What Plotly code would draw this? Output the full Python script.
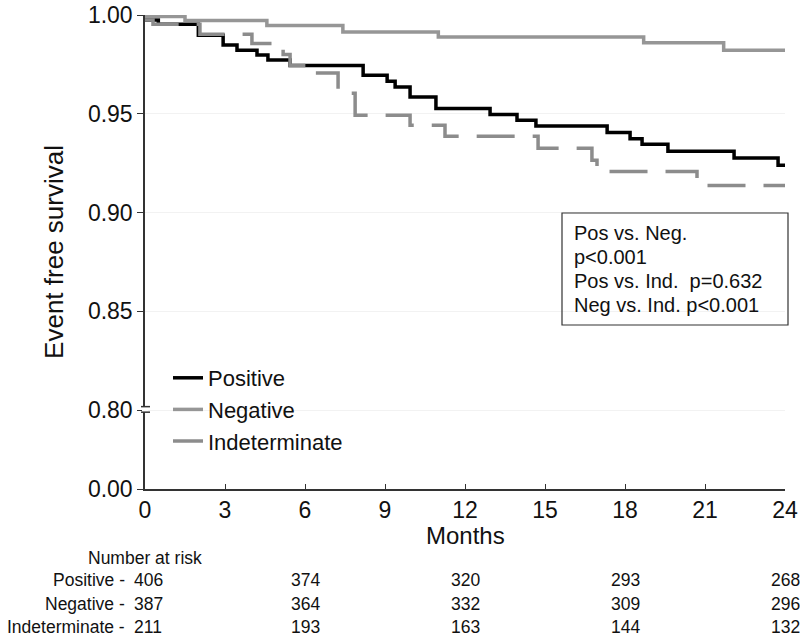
import plotly.graph_objects as go

# ---- data ----
pos_months = [0, 0.5, 2.0, 2.93, 3.45, 4.2, 4.61, 5.44, 8.18, 9.08, 9.38, 9.94, 10.91,
              12.94, 13.95, 14.66, 17.33, 18.19, 18.64, 19.61, 22.09, 23.74, 24]
pos_surv = [0.9975, 0.9953, 0.9898, 0.9848, 0.9822, 0.9797, 0.9772, 0.9744, 0.9695, 0.9665,
            0.9636, 0.9585, 0.9526, 0.9496, 0.9467, 0.9438, 0.9405, 0.9374, 0.9345, 0.9310,
            0.9276, 0.9239, 0.9239]

neg_months = [0, 1.5, 4.57, 7.42, 11.0, 18.7, 21.7, 24]
neg_surv = [0.9992, 0.9972, 0.9947, 0.9914, 0.9888, 0.9859, 0.9822, 0.9822]

ind_months = [0, 0.3, 2.06, 4.01, 5.18, 5.44, 6.2, 7.24, 7.88, 9.94, 11.25, 14.74, 16.76,
              16.95, 20.7, 24]
ind_surv = [0.9975, 0.9953, 0.9902, 0.9856, 0.9800, 0.9744, 0.9706, 0.9604, 0.9492, 0.9442,
            0.9386, 0.9325, 0.9264, 0.9208, 0.9137, 0.9137]

x_ticks = [0, 3, 6, 9, 12, 15, 18, 21, 24]
y_tickvals = [0.76, 0.80, 0.85, 0.90, 0.95, 1.00]   # 0.76 position shows the broken-axis "0.00"
y_ticktext = ["0.00", "0.80", "0.85", "0.90", "0.95", "1.00"]

risk_months = [0, 6, 12, 18, 24]
risk_groups = ["Positive", "Negative", "Indeterminate"]
risk_pos = [406, 374, 320, 293, 268]
risk_neg = [387, 364, 332, 309, 296]
risk_ind = [211, 193, 163, 144, 132]

stats_lines = ["Pos vs. Neg.", "p<0.001", "Pos vs. Ind.&nbsp;&nbsp;p=0.632", "Neg vs. Ind. p<0.001"]

# ---- figure ----
FONT = "Liberation Sans, Arial, sans-serif"
TFONT = "Liberation Sans, Arial, sans-serif"
fig = go.Figure()
fig.add_trace(go.Scatter(x=pos_months, y=pos_surv, mode="lines", name="Positive",
                         line=dict(color="#000000", width=3.5, shape="hv")))
fig.add_trace(go.Scatter(x=neg_months, y=neg_surv, mode="lines", name="Negative",
                         line=dict(color="#969696", width=3.5, shape="hv")))
fig.add_trace(go.Scatter(x=ind_months, y=ind_surv, mode="lines", name="Indeterminate",
                         line=dict(color="#8c8c8c", width=3.5, shape="hv", dash="38px,18px")))

W, H = 800, 641
L, R, T, B = 145, 15, 15, 152
pw, ph = W - L - R, H - T - B

def py(ypx):
    return (H - B - ypx) / ph

def px(xpx):
    return (xpx - L) / pw

fig.update_layout(
    width=W, height=H,
    margin=dict(l=L, r=R, t=T, b=B, autoexpand=False),
    plot_bgcolor="white", paper_bgcolor="white",
    font=dict(family=FONT, color="#111111"),
    showlegend=True,
    legend=dict(x=px(168), y=py(357), xanchor="left", yanchor="top",
                font=dict(size=22, family=FONT, color="#111111"),
                bgcolor="rgba(0,0,0,0)", tracegroupgap=0),
    xaxis=dict(range=[0, 24], tickvals=x_ticks, ticks="inside", ticklen=5,
               tickcolor="#333333", showline=True, linecolor="#333333", linewidth=1.5,
               showgrid=False, zeroline=False, tickfont=dict(size=23), automargin=False),
    yaxis=dict(range=[0.76, 1.0], tickvals=y_tickvals, ticktext=y_ticktext,
               ticks="outside", ticklen=6, tickcolor="#333333",
               showline=True, linecolor="#333333", linewidth=1.5,
               showgrid=True, gridcolor="#f2f2f2", zeroline=False,
               tickfont=dict(size=23), automargin=False,
               title=dict(text="Event free survival", font=dict(size=26), standoff=17)),
)

# x-axis title
fig.add_annotation(xref="paper", yref="paper", x=0.5, y=py(535), text="Months",
                   showarrow=False, xanchor="center", yanchor="middle",
                   font=dict(size=24, family=FONT, color="#111111"))

# axis break marks at 0.80
fig.add_shape(type="rect", xref="paper", yref="y", x0=px(142), x1=px(148),
              y0=0.7989, y1=0.8017, fillcolor="white", line=dict(width=0), layer="above")
for yb in (0.8017, 0.7989):
    fig.add_shape(type="line", xref="paper", yref="y", x0=px(141), x1=px(150), y0=yb, y1=yb,
                  line=dict(color="#333333", width=1.5), layer="above")

# statistics box
fig.add_shape(type="rect", xref="paper", yref="paper", x0=px(562), x1=px(788),
              y0=py(325), y1=py(213), line=dict(color="#333333", width=1.2),
              fillcolor="rgba(0,0,0,0)")
for i, line in enumerate(stats_lines):
    fig.add_annotation(xref="paper", yref="paper", x=px(572), y=py(233 + 24 * i),
                       text=line, showarrow=False, xanchor="left", yanchor="middle",
                       font=dict(size=20, family=FONT, color="#111111"))

# number at risk table
fig.add_annotation(xref="x", yref="paper", x=0, y=py(558), text="Number at risk",
                   showarrow=False, xanchor="center", yanchor="middle",
                   font=dict(size=17.5, family=TFONT, color="#111111"))
rows = [risk_pos, risk_neg, risk_ind]
for r, (grp, vals) in enumerate(zip(risk_groups, rows)):
    yy = py(580 + 23.5 * r)
    fig.add_annotation(xref="paper", yref="paper", x=px(127), y=yy, text=grp + " -",
                       showarrow=False, xanchor="right", yanchor="middle",
                       font=dict(size=17.5, family=TFONT, color="#111111"))
    for m, v in zip(risk_months, vals):
        fig.add_annotation(xref="x", yref="paper", x=m, y=yy, text=str(v),
                           showarrow=False, xanchor="center", yanchor="middle",
                           xshift=3 if m == 0 else 0,
                           font=dict(size=17.5, family=TFONT, color="#111111"))

fig.write_html("out.html", config={"displayModeBar": False},
               post_script="document.body.style.margin='0';document.body.style.overflow='hidden';")
